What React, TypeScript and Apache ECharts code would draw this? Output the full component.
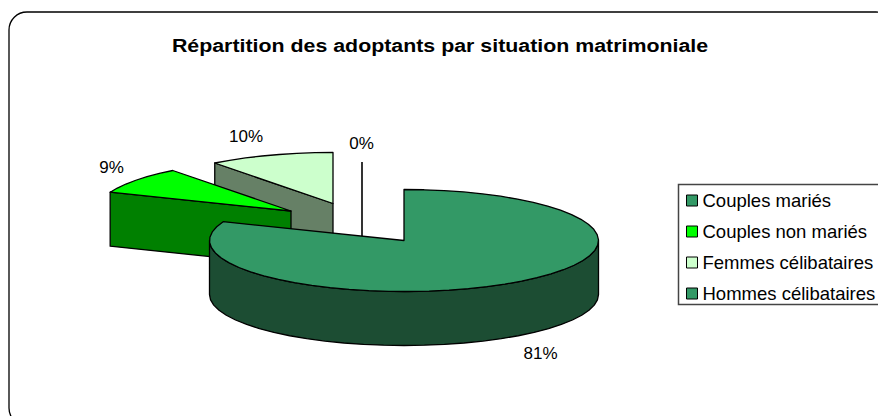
import React, { useEffect, useRef } from "react";
import * as echarts from "echarts";

const FONT = "'Liberation Sans', Arial, sans-serif";
const titleText = "Répartition des adoptants par situation matrimoniale";
const categories = ["Couples mariés", "Couples non mariés", "Femmes célibataires", "Hommes célibataires"];
const shares = [81, 8.6, 10.4, 0];
const topColors = ["#339966", "#00FF00", "#CCFFCC", "#339966"];
const sideColors = ["#1C4D33", "#008000", "#668066", "#1C4D33"];

// layout of the exploded pie (pixels)
const RX = 194.5;
const RY = 51;
const DEPTH = 54;
const apexes = [[404, 240.5], [291, 211], [333, 203.5], [362, 213]];
const labelPos = [[540.5, 353.5], [111.5, 167.5], [246, 136], [361.5, 143]];

const rad = (d: number) => (d * Math.PI) / 180;
const total = shares.reduce((a, b) => a + b, 0);

function rimPoint(apex: number[], deg: number, dy = 0): number[] {
  return [apex[0] + RX * Math.sin(rad(deg)), apex[1] - RY * Math.cos(rad(deg)) + dy];
}
function rim(apex: number[], from: number, to: number, dy = 0): number[][] {
  const out: number[][] = [];
  const steps = Math.max(1, Math.ceil((to - from) / 6));
  for (let i = 0; i <= steps; i++) out.push(rimPoint(apex, from + ((to - from) * i) / steps, dy));
  return out;
}

function sliceRenderer(index: number) {
  return (_params: any, api: any) => {
    const value = api.value(0);
    const before = shares.slice(0, index).reduce((a, b) => a + b, 0);
    const start = (before / total) * 360;
    const end = start + (value / total) * 360;
    const apex = apexes[index];
    const top = topColors[index];
    const side = sideColors[index];
    const stroke = { stroke: "#000", lineWidth: 1.3, lineJoin: "round" };
    const children: any[] = [];
    const below = [apex[0], apex[1] + DEPTH];
    const face = (deg: number) => {
      const o = rimPoint(apex, deg);
      children.push({
        type: "polygon",
        shape: { points: [o, apex, below, rimPoint(apex, deg, DEPTH)] },
        style: { fill: side, ...stroke },
      });
    };
    if (end - start < 0.01) {
      children.push({
        type: "polyline",
        shape: { points: [rimPoint(apex, 360), below] },
        style: { fill: "none", stroke: "#000", lineWidth: 1.6 },
      });
    } else {
      if (Math.sin(rad(start)) < -0.001) face(start);
      if (Math.sin(rad(end)) > 0.001) face(end);
      const a = Math.max(start, 90);
      const b = Math.min(end, 270);
      if (b > a) {
        const front = rim(apex, a, b);
        const back = rim(apex, a, b, DEPTH).reverse();
        children.push({
          type: "polygon",
          shape: { points: [...front, ...back] },
          style: { fill: side, ...stroke },
        });
      }
      children.push({
        type: "polygon",
        shape: { points: [apex, ...rim(apex, start, end)] },
        style: { fill: top, ...stroke },
      });
    }
    children.push({
      type: "text",
      x: labelPos[index][0],
      y: labelPos[index][1],
      style: {
        text: `${Math.round((value / total) * 100)}%`,
        fontFamily: FONT,
        fontSize: 17,
        fill: "#000",
        align: "center",
        verticalAlign: "middle",
      },
    });
    return { type: "group", children };
  };
}

export default function App() {
  const ref = useRef<HTMLDivElement>(null);
  useEffect(() => {
    document.body.style.margin = "0";
    const chart = echarts.init(ref.current!, undefined, { renderer: "svg" });
    const order = [3, 2, 1, 0];
    chart.setOption({
      animation: false,
      backgroundColor: "#fff",
      legend: {
        orient: "vertical",
        left: 686,
        top: 191,
        padding: 0,
        itemWidth: 11,
        itemHeight: 11,
        itemGap: 12,
        icon: "rect",
        data: categories,
        selectedMode: false,
        itemStyle: { borderColor: "#000", borderWidth: 1 },
        textStyle: { fontFamily: FONT, fontSize: 18.5, color: "#000", padding: [0, 0, 0, 0] },
      },
      graphic: [
        {
          type: "rect",
          z: -1,
          shape: { x: 9, y: 12, width: 885, height: 414, r: 18 },
          style: { fill: "#fff", stroke: "#000", lineWidth: 1.3 },
        },
        {
          type: "rect",
          z: -1,
          shape: { x: 678.5, y: 184.5, width: 210, height: 120 },
          style: { fill: "#fff", stroke: "#444", lineWidth: 1.5 },
        },
        {
          type: "text",
          x: 440,
          y: 46,
          scaleX: 1.155,
          style: {
            text: titleText,
            fontFamily: FONT,
            fontSize: 18.5,
            fontWeight: "bold",
            fill: "#000",
            align: "center",
            verticalAlign: "middle",
          },
        },
      ],
      series: order.map((i) => ({
        type: "custom",
        name: categories[i],
        coordinateSystem: "none",
        z: 5 - i,
        itemStyle: { color: topColors[i] },
        renderItem: sliceRenderer(i),
        data: [[shares[i]]],
      })),
    });
    return () => chart.dispose();
  }, []);
  return <div ref={ref} style={{ width: 878, height: 416 }} />;
}
